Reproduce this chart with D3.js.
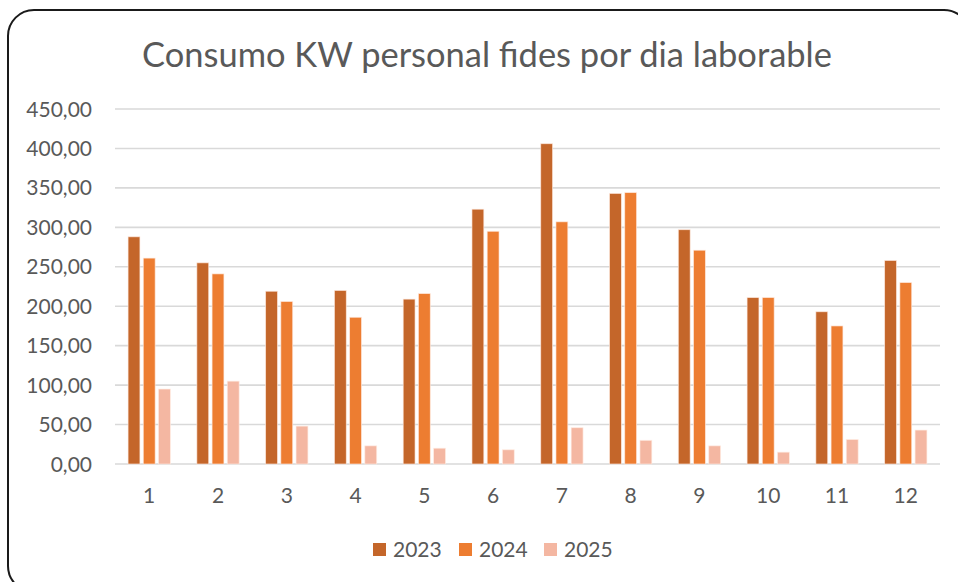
<!DOCTYPE html>
<html>
<head>
<meta charset="utf-8">
<script src="https://cdn.jsdelivr.net/npm/d3@7"></script>
<style>
  body { margin: 0; background: #fff; }
  text { font-family: Lato, "Open Sans", sans-serif; fill: #595959; }
</style>
</head>
<body>
<svg width="958" height="582"></svg>
<script>
// datos
var meses = ["1", "2", "3", "4", "5", "6", "7", "8", "9", "10", "11", "12"];
var anios = ["2023", "2024", "2025"];
var v2023 = [288, 255, 219, 220, 209, 323, 406, 343, 297, 211, 193, 258];
var v2024 = [261, 241, 206, 186, 216, 295, 307, 344, 271, 211, 175, 230];
var v2025 = [95, 105, 48, 23, 20, 18, 46, 30, 23, 15, 31, 43];
var yTicks = [0, 50, 100, 150, 200, 250, 300, 350, 400, 450];
var colores = ["#C4662A", "#ED7D31", "#F4B7A2"];
var titulo = "Consumo KW personal fides por dia laborable";

var series = [v2023, v2024, v2025];

var svg = d3.select("svg");

// marco redondeado
svg.append("rect")
    .attr("x", 8).attr("y", 10)
    .attr("width", 962).attr("height", 582)
    .attr("rx", 26).attr("ry", 26)
    .attr("fill", "#fff")
    .attr("stroke", "#1a1a1a")
    .attr("stroke-width", 2);

var plotLeft = 115, plotRight = 940, plotTop = 109, plotBottom = 464;

var x0 = d3.scaleBand().domain(meses).range([plotLeft, plotRight]).paddingInner(0.385).paddingOuter(0.19);
var x1 = d3.scaleBand().domain(anios).range([0, x0.bandwidth()]).paddingInner(0.22);
var y = d3.scaleLinear().domain([0, 450]).range([plotBottom, plotTop]);

// lineas de cuadricula
svg.append("g")
    .selectAll("line")
    .data(yTicks)
    .enter()
    .append("line")
    .attr("x1", plotLeft).attr("x2", plotRight)
    .attr("y1", function (d) { return y(d); })
    .attr("y2", function (d) { return y(d); })
    .attr("stroke", "#d9d9d9")
    .attr("stroke-width", 1.6);

// etiquetas eje y
svg.append("g")
    .selectAll("text")
    .data(yTicks)
    .enter()
    .append("text")
    .attr("x", 92)
    .attr("y", function (d) { return y(d) + 7.5; })
    .attr("text-anchor", "end")
    .style("font-size", "21px")
    .text(function (d) { return d3.format(".2f")(d).replace(".", ","); });

// barras
var grupos = svg.append("g")
    .selectAll("g")
    .data(meses)
    .enter()
    .append("g")
    .attr("transform", function (d) { return "translate(" + x0(d) + ",0)"; });

grupos.selectAll("rect")
    .data(function (d, i) {
        return anios.map(function (a, j) { return { anio: a, valor: series[j][i], j: j }; });
    })
    .enter()
    .append("rect")
    .attr("x", function (d) { return x1(d.anio); })
    .attr("y", function (d) { return y(d.valor); })
    .attr("width", x1.bandwidth())
    .attr("height", function (d) { return y(0) - y(d.valor); })
    .attr("fill", function (d) { return colores[d.j]; })
    .attr("stroke", "rgba(255,235,225,0.8)")
    .attr("stroke-width", 0.8);

// etiquetas eje x
svg.append("g")
    .selectAll("text")
    .data(meses)
    .enter()
    .append("text")
    .attr("x", function (d) { return x0(d) + x0.bandwidth() / 2; })
    .attr("y", 503)
    .attr("text-anchor", "middle")
    .style("font-size", "21px")
    .text(function (d) { return d; });

// titulo
var t = svg.append("text")
    .attr("x", 487)
    .attr("y", 67)
    .attr("text-anchor", "middle")
    .style("font-size", "30px")
    .text(titulo);
var w = t.node().getComputedTextLength();
t.style("font-size", (30 * 690 / w) + "px");

// leyenda
var legX = [373, 459, 544];
var leyenda = svg.append("g")
    .selectAll("g")
    .data(anios)
    .enter()
    .append("g")
    .attr("transform", function (d, i) { return "translate(" + legX[i] + ",543)"; });

leyenda.append("rect")
    .attr("width", 13).attr("height", 13)
    .attr("fill", function (d, i) { return colores[i]; });

leyenda.append("text")
    .attr("x", 20)
    .attr("y", 13.5)
    .style("font-size", "21px")
    .text(function (d) { return d; });
</script>
</body>
</html>
